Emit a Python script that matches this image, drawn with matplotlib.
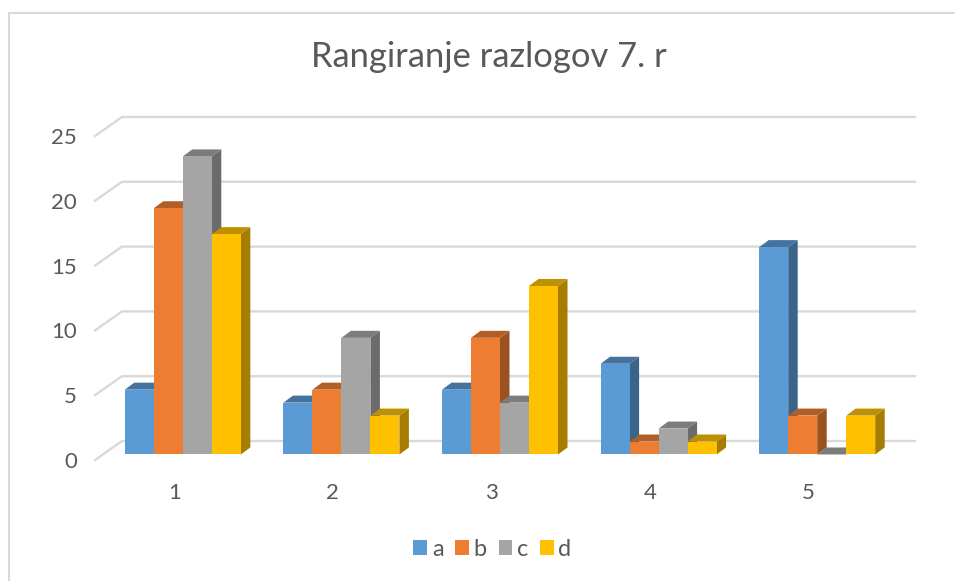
import matplotlib
matplotlib.use("Agg")
import matplotlib.pyplot as plt
import numpy as np
from matplotlib.lines import Line2D
from matplotlib.patches import Patch, Polygon

plt.rcParams['font.family'] = ['Lato', 'DejaVu Sans']

categories = [1, 2, 3, 4, 5]
series_names = ['a', 'b', 'c', 'd']
values_a = [5, 4, 5, 7, 16]
values_b = [19, 5, 9, 1, 3]
values_c = [23, 9, 4, 2, 0]
values_d = [17, 3, 13, 1, 3]
y_ticks = [0, 5, 10, 15, 20, 25]

front_colors = ['#5B9BD5', '#ED7D31', '#A5A5A5', '#FFC000']
top_colors = ['#44739F', '#B25E25', '#7C7C7C', '#BF9000']
side_colors = ['#3B648B', '#9B5220', '#6B6B6B', '#A67D00']
grid_color = '#D9D9D9'
text_color = '#595959'

W, H = 955, 581
fig = plt.figure(figsize=(W / 100, H / 100), dpi=100)
# axes = front plane of the fake 3d box, given in pixels
left, right, top, bottom = 95, 888, 136, 460
ax = fig.add_axes([left / W, 1 - bottom / H, (right - left) / W, (bottom - top) / H])
ax.set_xlim(0.5, 5.5)
ax.set_ylim(0, 25)

# pixel sizes turned into data units
px_x = 5 / (right - left)
px_y = 25 / (bottom - top)
depth_x = 9.5 * px_x
depth_y = 7 * px_y
bar_w = 29 * px_x
bar_d0 = 0.79  # bars stand a bit behind the front edge of the floor
wall_x = 27 * px_x
wall_y = 19 * px_y

# gridlines: short slanted part on the side wall, long part on the back wall
for t in y_ticks:
    ax.plot([0.5, 0.5 + wall_x, 5.5 + wall_x], [t, t + wall_y, t + wall_y],
            color=grid_color, lw=1.7, clip_on=False, zorder=1,
            solid_joinstyle='round')


def draw_bar(x0, h, i):
    x1 = x0 + bar_w
    base = bar_d0 * depth_y
    y1 = base + h
    dx, dy = depth_x, depth_y
    if h > 0:
        ax.add_patch(Polygon([(x1, base), (x1 + dx, base + dy), (x1 + dx, y1 + dy), (x1, y1)],
                             fc=side_colors[i], ec='none', clip_on=False, zorder=3))
    ax.add_patch(Polygon([(x0, y1), (x0 + dx, y1 + dy), (x1 + dx, y1 + dy), (x1, y1)],
                         fc=top_colors[i], ec='none', clip_on=False, zorder=3))
    if h > 0:
        ax.add_patch(Polygon([(x0, base), (x1, base), (x1, y1), (x0, y1)],
                             fc=front_colors[i], ec='none', clip_on=False, zorder=3))


series = [values_a, values_b, values_c, values_d]
for k, cat in enumerate(categories):
    start = cat - 2 * bar_w + bar_d0 * depth_x + 1 * px_x
    for i, vals in enumerate(series):
        draw_bar(start + i * bar_w, vals[k], i)

ax.set_xticks(categories)
ax.set_yticks(y_ticks)
ax.tick_params(axis='both', length=0, labelsize=16, labelcolor=text_color)
ax.tick_params(axis='y', pad=13)
ax.tick_params(axis='x', pad=16.7)
for s in ax.spines.values():
    s.set_visible(False)
ax.patch.set_visible(False)

fig.text(488.5 / W, 1 - 57 / H, 'Rangiranje razlogov 7. r', fontsize=24.8, color=text_color,
         ha='center', va='center')

handles = [Patch(fc=c, ec='none', label=n) for c, n in zip(front_colors, series_names)]
fig.legend(handles=handles, loc='center', bbox_to_anchor=(492.5 / W, 1 - 549 / H), ncols=4,
           frameon=False, fontsize=17, labelcolor=text_color, handlelength=0.58,
           handleheight=0.62, handletextpad=0.2, columnspacing=0.5, borderpad=0)

# chart border (only left and top edges are in the crop)
fig.add_artist(Line2D([8.5 / W, 8.5 / W, 1], [0, 1 - 12.5 / H, 1 - 12.5 / H],
                      color=grid_color, lw=1.5))

fig.savefig('out.png', dpi=100)
